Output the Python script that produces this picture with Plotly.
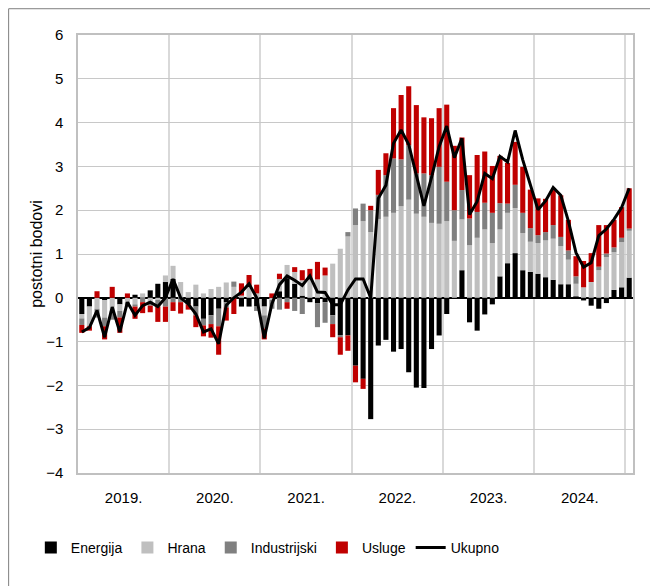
import plotly.graph_objects as go

# Monthly data Jan 2019 .. Jan 2025 (73 months)
energija = [-0.37, -0.2, 0.0, -0.05, 0.0, -0.15, 0.0, 0.07, 0.0, 0.17, 0.32, 0.36,
            0.43, 0.0, -0.15, -0.2, -0.48, -0.4, -0.25, -0.1, 0.0, -0.2, -0.2, -0.2,
            -0.2, 0.0, 0.15, 0.45, 0.32, 0.05, -0.1, -0.12, -0.1, -0.4, -0.85, -0.86,
            -1.55, -1.85, -2.77, -1.09, -0.96, -1.23, -1.17, -1.7, -2.05, -2.06, -1.17, -0.86,
            -0.37, 0.0, 0.63, -0.56, -0.75, -0.38, -0.15, 0.49, 0.79, 1.02, 0.63, 0.59,
            0.55, 0.47, 0.41, 0.31, 0.31, 0.03, -0.06, -0.18, -0.25, -0.12, 0.18, 0.24,
            0.46]
hrana = [-0.1, -0.45, -0.25, -0.4, -0.3, -0.15, -0.1, -0.15, 0.1, -0.08, -0.05, 0.15,
         0.3, 0.36, 0.13, 0.3, 0.1, 0.2, 0.25, 0.35, 0.25, 0.05, 0.25, 0.1,
         -0.2, -0.05, 0.28, 0.3, 0.27, 0.35, 0.42, 0.42, 0.51, 0.78, 1.12, 1.4,
         1.66, 1.75, 1.5, 1.8, 1.85, 1.94, 2.09, 2.24, 1.92, 1.85, 1.71, 1.69,
         1.75, 1.3, 1.16, 1.2, 1.37, 1.56, 1.25, 1.07, 1.15, 1.03, 0.85, 0.69,
         0.7, 0.84, 0.94, 0.87, 0.56, 0.29, 0.24, 0.36, 0.63, 0.93, 0.86, 1.03,
         1.07]
industrijski = [-0.15, 0.0, -0.2, -0.2, -0.2, -0.15, -0.1, -0.05, -0.1, -0.1, -0.15, -0.2,
                -0.1, -0.1, 0.0, -0.2, -0.15, -0.2, -0.4, -0.12, 0.12, 0.0, 0.0, -0.1,
                -0.3, -0.2, -0.27, -0.1, -0.3, -0.37, 0.02, -0.55, -0.47, -0.2, -0.05, 0.1,
                0.38, 0.4, 0.5, 0.55, 0.95, 1.24, 1.07, 1.24, 0.92, 0.99, 1.09, 1.3,
                0.9, 0.7, 0.67, 0.61, 0.59, 0.61, 0.69, 0.6, 0.21, 0.53, 0.46, 0.31,
                0.18, 0.19, 0.31, 0.21, 0.21, 0.17, 0.0, 0.0, 0.08, 0.08, 0.11, 0.1,
                0.05]
usluge = [-0.18, -0.1, 0.15, -0.3, 0.25, -0.35, 0.1, -0.28, -0.25, -0.15, -0.35, -0.35,
          -0.2, -0.26, -0.12, -0.27, -0.25, -0.31, -0.65, -0.3, -0.37, 0.28, 0.27, 0.2,
          -0.25, 0.1, 0.12, -0.15, 0.11, 0.23, 0.22, 0.4, 0.18, -0.3, -0.4, -0.35,
          -0.38, -0.23, 0.1, 0.57, 0.5, 1.15, 1.47, 1.35, 1.56, 1.28, 1.3, 1.34,
          1.76, 1.47, 1.2, 0.99, 1.3, 1.17, 1.07, 1.08, 0.93, 0.98, 1.05, 0.88,
          0.84, 0.76, 0.8, 0.95, 0.7, 0.46, 0.6, 0.66, 0.95, 0.65, 0.63, 0.7,
          0.92]
ukupno = [-0.78, -0.68, -0.29, -0.9, -0.21, -0.78, -0.1, -0.4, -0.18, -0.1, -0.2, 0.0,
          0.43, 0.0, -0.14, -0.37, -0.78, -0.71, -1.05, -0.17, 0.0, 0.13, 0.32, 0.0,
          -0.92, -0.14, 0.3, 0.5, 0.4, 0.28, 0.5, 0.13, 0.12, -0.16, -0.16, 0.18,
          0.43, 0.43, 0.0, 2.27, 2.57, 3.53, 3.83, 3.5, 2.8, 2.1, 2.75, 3.45,
          3.92, 3.2, 3.64, 1.9, 2.2, 2.84, 2.72, 3.23, 3.1, 3.82, 3.15, 2.55,
          2.01, 2.21, 2.52, 2.34, 1.75, 1.03, 0.7, 0.8, 1.42, 1.57, 1.79, 2.06,
          2.5]
years = ["2019.", "2020.", "2021.", "2022.", "2023.", "2024."]

x = list(range(len(ukupno)))
FONT = "Liberation Sans, Arial, sans-serif"

fig = go.Figure()
for name, vals, col in [("Energija", energija, "#000000"),
                        ("Hrana", hrana, "#bfbfbf"),
                        ("Industrijski", industrijski, "#808080"),
                        ("Usluge", usluge, "#c00000")]:
    fig.add_trace(go.Bar(x=x, y=vals, name=name, marker=dict(color=col, line=dict(width=0))))
fig.add_trace(go.Scatter(x=x, y=ukupno, name="Ukupno", mode="lines",
                         line=dict(color="#000000", width=3)))

year_centers = [5.5 + 12 * k for k in range(len(years))]
year_bounds = [11.5 + 12 * k for k in range(len(years))]

# the page body adds an 8px offset, so the figure is 650x578
fig.update_layout(
    width=650, height=578,
    barmode="relative", bargap=0.33,
    paper_bgcolor="white", plot_bgcolor="white",
    margin=dict(l=70, r=25, t=27, b=113, autoexpand=False),
    font=dict(family=FONT, size=15, color="#000000"),
    showlegend=True,
    legend=dict(orientation="h", x=-0.085, xanchor="left", y=-0.171, yanchor="middle",
                font=dict(size=14), itemwidth=30, traceorder="normal",
                bgcolor="rgba(0,0,0,0)"),
    shapes=[dict(type="rect", xref="paper", yref="paper",
                 x0=-0.125, x1=1.041, y0=-0.3, y1=1.06,
                 line=dict(color="#7f7f7f", width=1), layer="below")],
)
fig.update_xaxes(
    range=[-0.5, len(x) - 0.5], automargin=False,
    tickmode="array", tickvals=year_centers, ticktext=years,
    showgrid=False, ticks="", ticklabelstandoff=10,
    showline=True, linecolor="#c0c0c0", linewidth=1.5, mirror=True,
    zeroline=False,
    minor=dict(tickmode="array", tickvals=year_bounds, showgrid=True,
               gridcolor="#d9d9d9", gridwidth=1.5, ticks=""),
)
fig.update_yaxes(
    range=[-4, 6], tickmode="linear", tick0=-4, dtick=1, automargin=False,
    showgrid=True, gridcolor="#c8c8c8", gridwidth=1,
    zeroline=True, zerolinecolor="#000000", zerolinewidth=1.5,
    showline=True, linecolor="#c0c0c0", linewidth=1.5, mirror=True,
    ticks="", ticklabelstandoff=10,
    title=dict(text="postotni bodovi", standoff=0, font=dict(size=16)),
)
fig.write_html("out.html")
